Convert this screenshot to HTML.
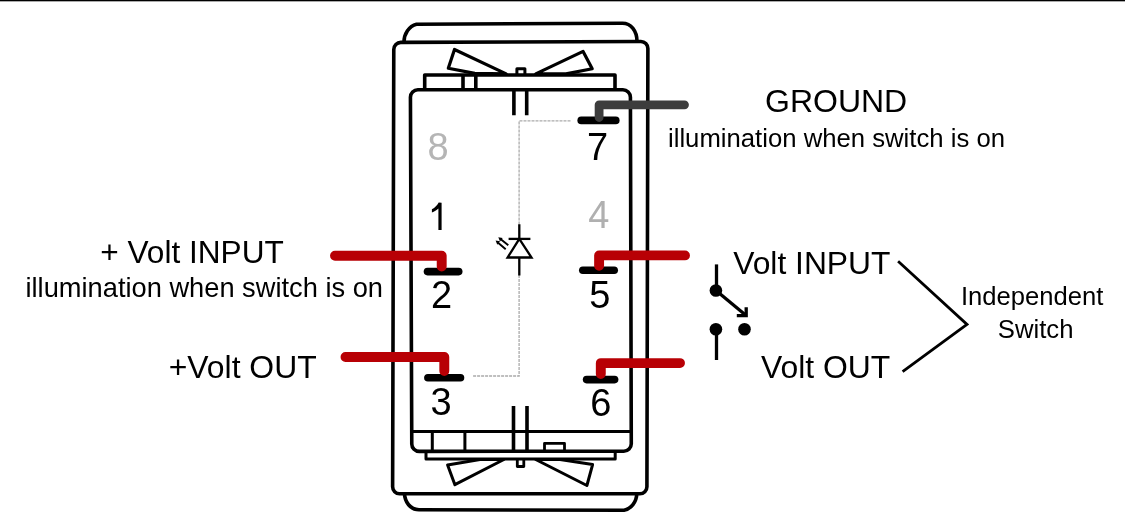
<!DOCTYPE html>
<html><head><meta charset="utf-8">
<style>
html,body{margin:0;padding:0;background:#fff;width:1125px;height:527px;overflow:hidden}
svg{display:block;will-change:transform}
text{font-family:"Liberation Sans",sans-serif;fill:#000}
</style></head>
<body>
<svg width="1125" height="527" viewBox="0 0 1125 527">
<rect x="0" y="0" width="1125" height="527" fill="#fff"/>
<rect x="0" y="0" width="1125" height="1" fill="#000"/>
<rect x="0" y="1" width="1125" height="1" fill="#aaa"/>

<g fill="none" stroke="#000" stroke-width="3.6" stroke-linejoin="round">
  <path d="M404 42 C404 34 409 26 416.5 24.2 L622.5 23.3 C631 23.3 637 31 637 41.5"/>
  <path d="M393.78 49.40 C393.79 45.53 396.93 42.39 400.80 42.37 L640.90 41.43 C644.77 41.41 647.89 44.53 647.88 48.40 L646.92 486.70 C646.91 490.57 643.77 493.70 639.90 493.70 L399.60 493.80 C395.73 493.80 392.61 490.67 392.62 486.80 Z"/>
  <path d="M404.4 493.5 C405 502 410 509.6 419 509.8 L624 510.2 C631 509 636.6 502 636.8 493.5"/>
  <path d="M424.7 89.5 V75 H615 V89.5"/>
  <path d="M463 75 V89.5 M475.8 75 V89.5"/>
  <path d="M410.43 97.30 C410.41 93.16 413.76 89.80 417.90 89.80 L622.90 89.80 C627.04 89.80 630.41 93.16 630.42 97.30 L631.28 443.70 C631.29 447.84 627.94 451.20 623.80 451.21 L419.30 451.39 C415.16 451.40 411.79 448.04 411.77 443.90 Z"/>
  <path d="M516.9 74.5 V68.7 H524.9 V74.5" stroke-width="3"/>
  <path d="M454.5 49.5 L506.2 73.9 L474.8 73.4 L448.3 68.2 Z" stroke-width="3.2"/>
  <path d="M583.1 51.4 L535.7 73.9 L566 73.9 L592.2 68.8 Z" stroke-width="3.2"/>
  <path d="M513.9 89.5 V115.3 M526.7 89.5 V115.3"/>
  <path d="M411.3 431.6 H631 M432.3 431.6 V450.8 M464.9 431.6 V450.8" stroke-width="3"/>
  <path d="M513.5 405.9 V450.8 M527 405.9 V450.8"/>
  <path d="M544.5 450.6 V443.4 H564.5 V450.6" stroke-width="2.8"/>
  <path d="M426 450.8 V458.9 H615.2 V450.8" stroke-width="3"/>
  <path d="M517.3 459 V466.5 H523.8 V459" stroke-width="2.8"/>
  <path d="M447.6 465 L480 459.5 L503.9 459.5 L454.9 484.7 Z" stroke-width="3"/>
  <path d="M535.7 459.5 L560 459.5 L592.6 464.6 L586.9 485.5 Z" stroke-width="3"/>
</g>

<path d="M570.5 120.8 L519.1 120.8 L519.1 225 M519.1 275 L519.1 376 L472.5 376" fill="none" stroke="#aaa" stroke-width="1.3" stroke-dasharray="3 1"/>

<g fill="none" stroke="#000" stroke-width="2.3">
  <path d="M519.3 224.3 V238.9 M519.3 257.5 V275.5"/>
  <path d="M508.6 238.9 H530.4"/>
  <path d="M519.3 238.9 L507.6 257.5 H531.5 Z"/>
  <path d="M508.3 245.2 L500.5 239 M505.7 249.2 L497.8 242.5" stroke-width="1.9"/>
</g>
<path d="M498.3 237.2 L502.7 237.9 L500.0 241.4 Z M495.6 240.5 L500.0 241.2 L497.3 244.7 Z" fill="#000"/>

<g fill="none" stroke-linecap="round" stroke-linejoin="round">
  <g stroke="#000" stroke-width="7.6">
    <path d="M581.2 120.4 H615.8"/>
    <path d="M427.5 271.6 H458.7"/>
    <path d="M582.8 270.2 H614.2"/>
    <path d="M427.9 377.8 H460.5"/>
    <path d="M586.6 379.6 H614.6"/>
  </g>
  <path d="M599.1 117.5 V104.8 H684.5" stroke="#3d3d3d" stroke-width="8.8"/>
  <g stroke="#b80005" stroke-width="9.9">
    <path d="M335 255.8 H441.7 V266.5"/>
    <path d="M345.5 357 H444.3 V371"/>
    <path d="M685 255.4 H599.1 V265.8"/>
    <path d="M680 363.1 H600.8 V374"/>
  </g>
</g>

<g stroke="#000" stroke-width="3.3" fill="none">
  <path d="M716.5 264.4 V290.5"/>
  <path d="M716 290.5 L745.5 315"/>
  <path d="M736.8 315.6 H746.2 V307.2"/>
  <path d="M716.5 329 V360"/>
  <path d="M898.1 261.2 L967 324.4 L902.6 371.7" stroke-width="2.8"/>
</g>
<g fill="#000">
  <circle cx="715.9" cy="290.5" r="6.3"/>
  <circle cx="715.9" cy="329.2" r="6.3"/>
  <circle cx="744.5" cy="329.2" r="6.3"/>
</g>

<text x="100.3" y="263.2" font-size="31.6">+ Volt INPUT</text>
<text x="25.5" y="296.6" font-size="27.25">illumination when switch is on</text>
<text x="168.7" y="378.3" font-size="31.9">+Volt OUT</text>
<text x="733.2" y="273.8" font-size="31.8">Volt INPUT</text>
<text x="760.9" y="378.4" font-size="31.9">Volt OUT</text>
<text x="765" y="112.4" font-size="32">GROUND</text>
<text x="668" y="146.5" font-size="25.7">illumination when switch is on</text>
<text x="961" y="304.5" font-size="25.6">Independent</text>
<text x="997.8" y="338.2" font-size="25.7">Switch</text>

<g font-size="38">
<text x="427.6" y="159.6" style="fill:#b5b5b5">8</text>
<text x="586.9" y="159.9">7</text>

<text x="588.2" y="227.6" style="fill:#b0b0b0">4</text>
<text x="431" y="307.7">2</text>
<text x="589.3" y="307.7">5</text>
<text x="430.6" y="415.1">3</text>
<text x="590.2" y="415.8">6</text>
</g>
<path d="M441.6 202.8 V230 H438.4 V208.5 C436.6 210.2 434.4 211.7 431.9 212.6 V209.3 C434.9 207.8 437.3 205.4 438.7 202.6 Z" fill="#000"/>
</svg>
</body></html>
